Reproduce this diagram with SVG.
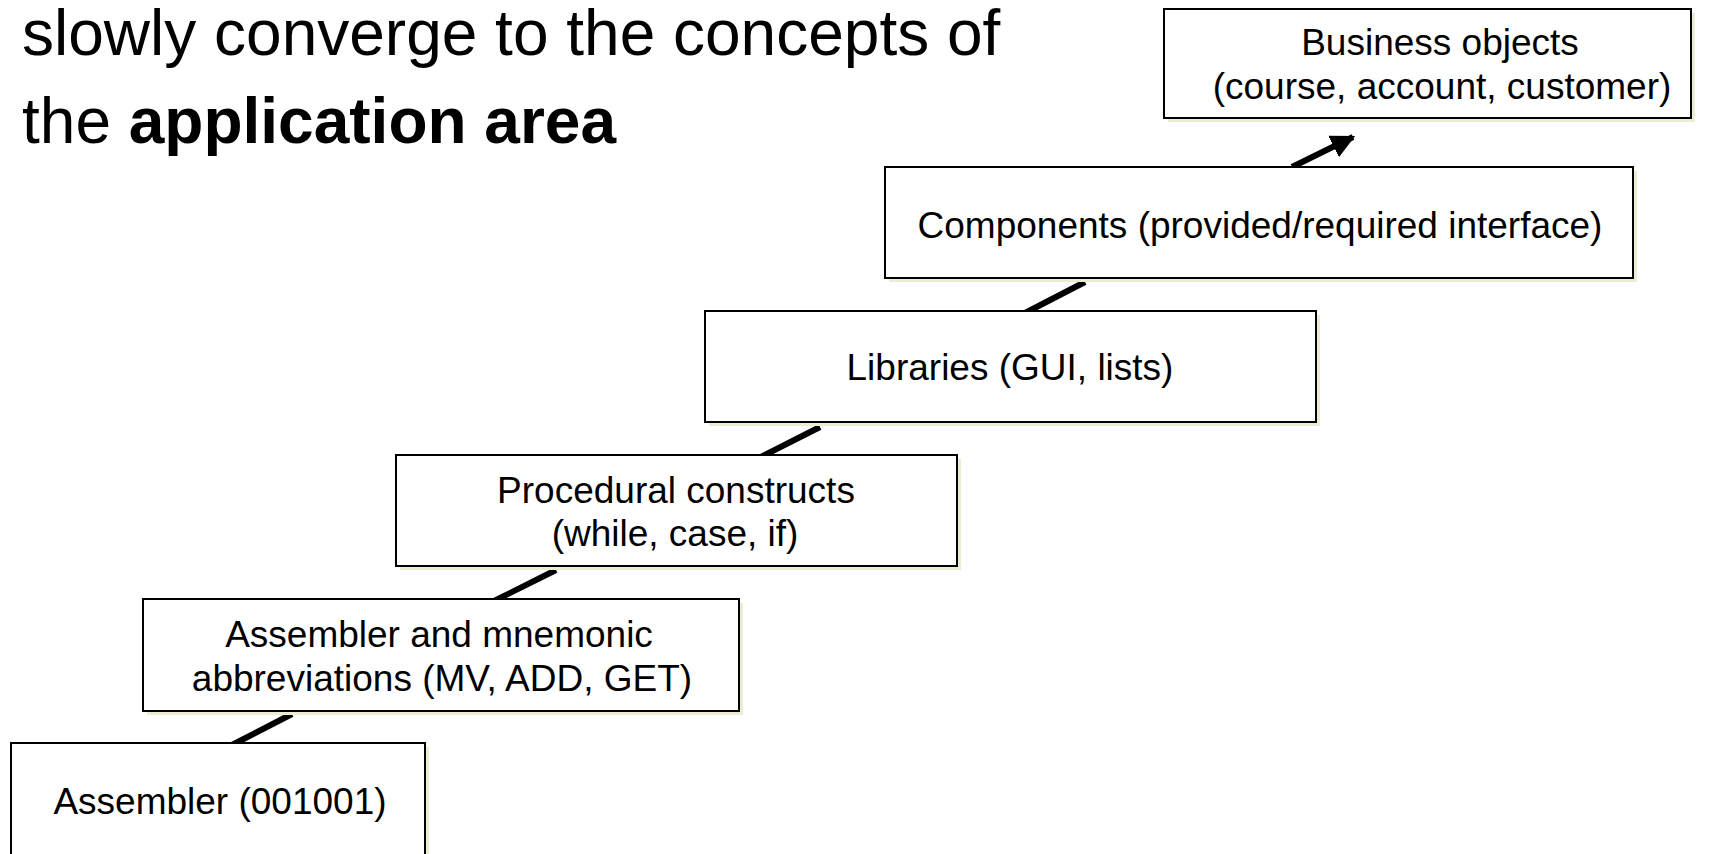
<svg xmlns="http://www.w3.org/2000/svg" width="1728" height="854" viewBox="0 0 1728 854">
  <style>
    .title { font-family: "Liberation Sans", Arial, sans-serif; font-size: 64px; fill: #000; }
    .bold { font-weight: bold; }
    .shadow { fill: #ECECD2; stroke: none; }
    .box { fill: #fff; stroke: #000; stroke-width: 2; }
    .label { font-family: "Liberation Sans", Arial, sans-serif; font-size: 37px; fill: #000; text-anchor: middle; }
    .conn { stroke: #000; stroke-width: 6; fill: none; }
  </style>
  <defs>
    <marker id="arrow" viewBox="0 0 10 10" refX="9" refY="5" markerWidth="4" markerHeight="4" markerUnits="strokeWidth" orient="auto">
      <path d="M0,0 L10,5 L0,10 z" fill="#000"/>
    </marker>
  </defs>
  <rect width="1728" height="854" fill="#fff"/>

  <!-- heading text -->
  <text class="title" x="22" y="55">slowly converge to the concepts of</text>
  <text class="title" x="22" y="143">the <tspan class="bold">application area</tspan></text>

  <!-- connectors between the abstraction levels -->
  <g id="connectors">
    <line class="conn" x1="230" y1="746" x2="292" y2="714"/>
    <line class="conn" x1="492" y1="602" x2="556" y2="570"/>
    <line class="conn" x1="759" y1="458" x2="820" y2="427"/>
    <line class="conn" x1="1023" y1="314" x2="1085" y2="282"/>
    <line class="conn" x1="1292" y1="167" x2="1353" y2="137" marker-end="url(#arrow)"/>
  </g>

  <g id="assembler">
    <rect class="shadow" x="15" y="747" width="414" height="112"/>
    <rect class="box" x="11" y="743" width="414" height="112"/>
    <text class="label" x="220" y="814">Assembler (001001)</text>
  </g>

  <g id="mnemonics">
    <rect class="shadow" x="147" y="603" width="596" height="112"/>
    <rect class="box" x="143" y="599" width="596" height="112"/>
    <text class="label" x="439" y="647">Assembler and mnemonic</text>
    <text class="label" x="442" y="691">abbreviations (MV, ADD, GET)</text>
  </g>

  <g id="procedural">
    <rect class="shadow" x="400" y="459" width="561" height="111"/>
    <rect class="box" x="396" y="455" width="561" height="111"/>
    <text class="label" x="676" y="503">Procedural constructs</text>
    <text class="label" x="675" y="546">(while, case, if)</text>
  </g>

  <g id="libraries">
    <rect class="shadow" x="709" y="315" width="611" height="111"/>
    <rect class="box" x="705" y="311" width="611" height="111"/>
    <text class="label" x="1010" y="380">Libraries (GUI, lists)</text>
  </g>

  <g id="components">
    <rect class="shadow" x="889" y="171" width="748" height="111"/>
    <rect class="box" x="885" y="167" width="748" height="111"/>
    <text class="label" x="1260" y="238">Components (provided/required interface)</text>
  </g>

  <g id="business-objects">
    <rect class="shadow" x="1168" y="13" width="527" height="109"/>
    <rect class="box" x="1164" y="9" width="527" height="109"/>
    <text class="label" x="1440" y="55">Business objects</text>
    <text class="label" x="1442" y="99">(course, account, customer)</text>
  </g>
</svg>
